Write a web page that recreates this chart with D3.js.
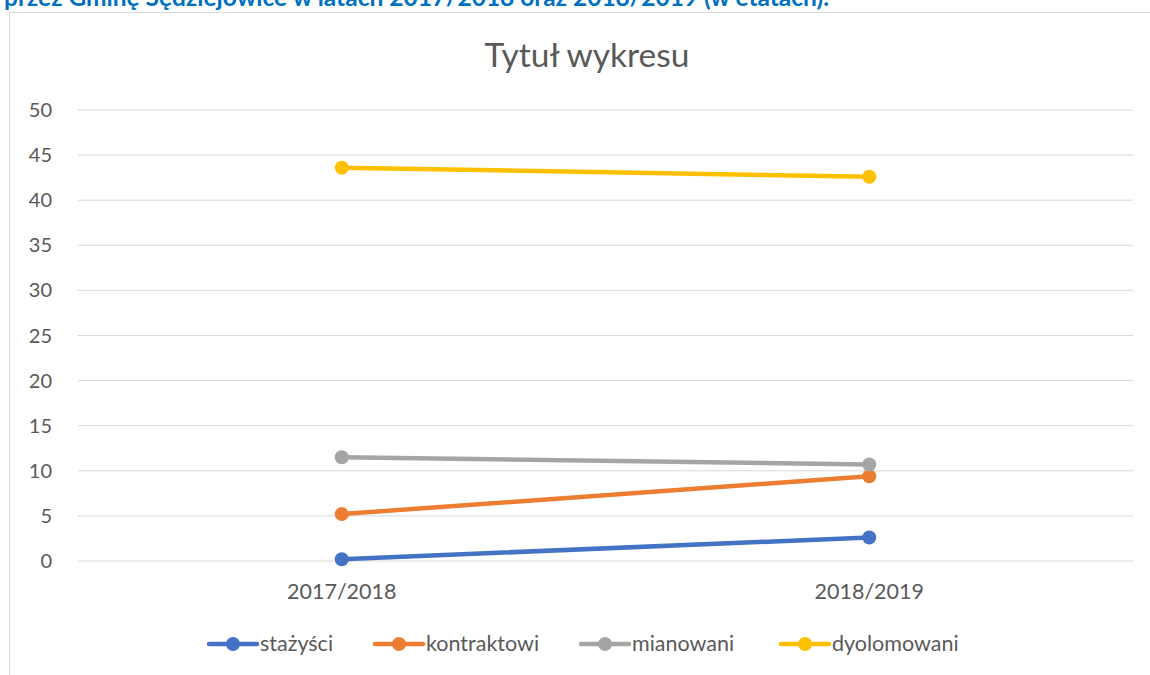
<!DOCTYPE html>
<html>
<head>
<meta charset="utf-8">
<script src="https://cdn.jsdelivr.net/npm/d3@7"></script>
<style>
  body { margin: 0; background: #fff; }
  svg { display: block; font-family: Lato, "Open Sans", sans-serif; }
</style>
</head>
<body>
<svg id="chart" width="1150" height="675"></svg>
<script>
var CATEGORIES = ['2017/2018', '2018/2019'];
var SERIES = ['stażyści', 'kontraktowi', 'mianowani', 'dyolomowani'];
var COLORS = ['#4472C4', '#ED7D31', '#A5A5A5', '#FFC000'];
var VALUES_STAZYSCI = [0.2, 2.6];
var VALUES_KONTRAKTOWI = [5.2, 9.4];
var VALUES_MIANOWANI = [11.5, 10.7];
var VALUES_DYPLOMOWANI = [43.6, 42.6];
var Y_TICKS = [0, 5, 10, 15, 20, 25, 30, 35, 40, 45, 50];

var svg = d3.select('#chart');

// caption above the chart box, cut by the top edge as in the source
svg.append('text')
  .attr('x', 4)
  .attr('y', 6)
  .attr('fill', '#0070C0')
  .style('font-size', '24.5px')
  .style('font-weight', 'bold')
  .text('przez Gminę Sędziejowice w latach 2017/2018 oraz 2018/2019 (w etatach).');

// chart frame
svg.append('rect')
  .attr('x', 9.5)
  .attr('y', 12.5)
  .attr('width', 1160)
  .attr('height', 700)
  .attr('fill', '#fff')
  .attr('stroke', '#d9d9d9');

svg.append('text')
  .attr('x', 587)
  .attr('y', 67)
  .attr('text-anchor', 'middle')
  .attr('fill', '#595959')
  .style('font-size', '33.5px')
  .text('Tytuł wykresu');

var x = d3.scaleBand()
  .domain(CATEGORIES)
  .range([78, 1133]);

var y = d3.scaleLinear()
  .domain([0, 50])
  .range([561, 110]);

var grid = svg.append('g');
grid.selectAll('line')
  .data(Y_TICKS)
  .enter()
  .append('line')
  .attr('x1', 78)
  .attr('x2', 1133)
  .attr('y1', d => y(d))
  .attr('y2', d => y(d))
  .attr('stroke', '#d9d9d9')
  .attr('stroke-width', 1);

svg.append('g').selectAll('text')
  .data(Y_TICKS)
  .enter()
  .append('text')
  .attr('x', 52)
  .attr('y', d => y(d) + 7)
  .attr('text-anchor', 'end')
  .attr('fill', '#595959')
  .style('font-size', '20px')
  .text(d => d);

svg.append('g').selectAll('text')
  .data(CATEGORIES)
  .enter()
  .append('text')
  .attr('x', d => x(d) + x.bandwidth() / 2)
  .attr('y', 599)
  .attr('text-anchor', 'middle')
  .attr('fill', '#595959')
  .style('font-size', '21.5px')
  .text(d => d);

var allValues = [VALUES_STAZYSCI, VALUES_KONTRAKTOWI, VALUES_MIANOWANI, VALUES_DYPLOMOWANI];
var data = SERIES.map(function(name, i){
  return {name: name, color: COLORS[i], values: allValues[i].map(function(v, j){
    return {cat: CATEGORIES[j], v: v};
  })};
});

var line = d3.line()
  .x(d => x(d.cat) + x.bandwidth() / 2)
  .y(d => y(d.v));

var series = svg.append('g').selectAll('g')
  .data(data)
  .enter()
  .append('g');

series.append('path')
  .attr('d', d => line(d.values))
  .attr('fill', 'none')
  .attr('stroke', d => d.color)
  .attr('stroke-width', 4.5)
  .attr('stroke-linecap', 'round');

series.selectAll('circle')
  .data(d => d.values.map(v => ({cat: v.cat, v: v.v, color: d.color})))
  .enter()
  .append('circle')
  .attr('cx', d => x(d.cat) + x.bandwidth() / 2)
  .attr('cy', d => y(d.v))
  .attr('r', 7)
  .attr('fill', d => d.color);

// legend
var LEGEND_X = [209, 375, 581, 781];
var legend = svg.append('g').selectAll('g')
  .data(data)
  .enter()
  .append('g')
  .attr('transform', (d, i) => 'translate(' + LEGEND_X[i] + ',644)');

legend.append('line')
  .attr('x1', 0)
  .attr('x2', 48)
  .attr('stroke', d => d.color)
  .attr('stroke-width', 4.5)
  .attr('stroke-linecap', 'round');

legend.append('circle')
  .attr('cx', 24)
  .attr('r', 7)
  .attr('fill', d => d.color);

legend.append('text')
  .attr('x', 51)
  .attr('y', 7)
  .attr('fill', '#595959')
  .style('font-size', '21.5px')
  .text(d => d.name);
</script>
</body>
</html>
